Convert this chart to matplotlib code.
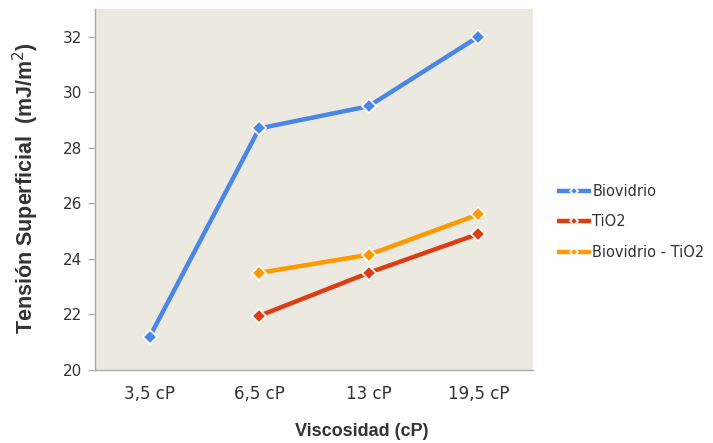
import matplotlib.pyplot as plt
import numpy as np

categories = ["3,5 cP", "6,5 cP", "13 cP", "19,5 cP"]
biovidrio = [21.2, 28.7, 29.5, 32.0]
tio2 = [np.nan, 21.95, 23.5, 24.9]
bio_tio2 = [np.nan, 23.5, 24.15, 25.6]

series = [
    ("Biovidrio", biovidrio, "#4a86e8"),
    ("TiO2", tio2, "#dc3d12"),
    ("Biovidrio - TiO2", bio_tio2, "#ff9900"),
]

fig = plt.figure(figsize=(7.13, 4.43), dpi=100)
ax = fig.add_axes([95 / 713, 73 / 443, 438 / 713, 361 / 443])
ax.set_facecolor("#ece9e0")

x = np.arange(len(categories))
for name, vals, color in series:
    ax.plot(x, vals, color=color, lw=3.2, marker="D", ms=7.5,
            mec="white", mew=1.2, label=name, solid_capstyle="butt")

ax.set_xlim(-0.5, len(categories) - 0.5)
ax.set_ylim(20, 33)
ax.set_yticks(np.arange(20, 33, 2))
ax.set_xticks(x)
ax.set_xticklabels(categories)

for side in ["top", "right"]:
    ax.spines[side].set_visible(False)
for side in ["left", "bottom"]:
    ax.spines[side].set_color("#aaaaaa")
    ax.spines[side].set_linewidth(1)
ax.tick_params(axis="y", colors="#aaaaaa", labelcolor="#333333", length=5,
               labelsize=11, pad=4)
ax.tick_params(axis="x", length=0, labelcolor="#333333", labelsize=12, pad=11)

fig.text(362 / 713, 11 / 443, "Viscosidad (cP)", ha="center", va="center",
         fontsize=13, fontweight="bold", family="Liberation Sans", color="#333333")
fig.text(26 / 713, 1 - 188 / 443, "Tensión Superficial  (mJ/m$^{2}$)", ha="center",
         va="center", rotation=90, fontsize=15.5, fontweight="bold",
         family="Liberation Sans", color="#333333")

leg = fig.legend(loc="center left", bbox_to_anchor=(544 / 713, 1 - 222 / 443),
                 frameon=False, fontsize=10.5, handlelength=2.3, handletextpad=0.1,
                 labelspacing=1.05, markerscale=0.6)
for t in leg.get_texts():
    t.set_color("#333333")

fig.savefig("out.png", dpi=100)
